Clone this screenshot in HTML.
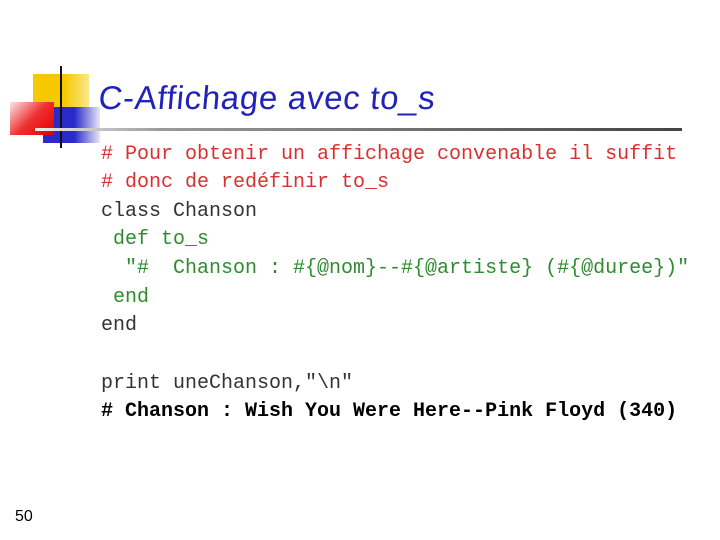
<!DOCTYPE html>
<html><head><meta charset="utf-8"><style>
body{margin:0;width:720px;height:540px;background:#fff;position:relative;overflow:hidden;font-family:"Liberation Sans",sans-serif}
.a{position:absolute}
.c{position:absolute;left:101px;font-family:"Liberation Mono",monospace;font-size:20px;line-height:20px;white-space:pre;color:#333}
.r{color:#d83030}.g{color:#2e8b2e}
</style></head><body>
<div class="a" style="left:33px;top:74px;width:56px;height:42px;background:linear-gradient(90deg,#f5c800 55%,#fbe78a)"></div>
<div class="a" style="left:43px;top:107px;width:57px;height:36px;background:linear-gradient(90deg,#2a2ac8 55%,#e8e8f8)"></div>
<div class="a" style="left:10px;top:102px;width:44px;height:33px;background:linear-gradient(135deg,#f8e8e8,#f03030 50%,#e00000)"></div>
<div class="a" style="left:60px;top:66px;width:2px;height:82px;background:#111"></div>
<div class="a" style="left:35px;top:128px;width:647px;height:3px;background:linear-gradient(90deg,#eee,#999 20%,#444)"></div>
<div class="a" style="left:97px;top:79px;font-size:33px;letter-spacing:0.7px;color:#2222bb;white-space:nowrap;transform:skewX(-5deg);transform-origin:left bottom">C-Affichage avec to_s</div>
<div class="c r" style="top:145px"># Pour obtenir un affichage convenable il suffit</div>
<div class="c r" style="top:173px"># donc de redéfinir to_s</div>
<div class="c" style="top:202px">class Chanson</div>
<div class="c g" style="top:230px"> def to_s</div>
<div class="c g" style="top:259px">  "#  Chanson : #{@nom}--#{@artiste} (#{@duree})"</div>
<div class="c g" style="top:288px"> end</div>
<div class="c" style="top:316px">end</div>
<div class="c" style="top:374px">print uneChanson,"\n"</div>
<div class="c" style="top:402px;font-weight:bold;color:#000"># Chanson : Wish You Were Here--Pink Floyd (340)</div>
<div class="a" style="left:15px;top:508px;font-size:16px;color:#000">50</div>
</body></html>
